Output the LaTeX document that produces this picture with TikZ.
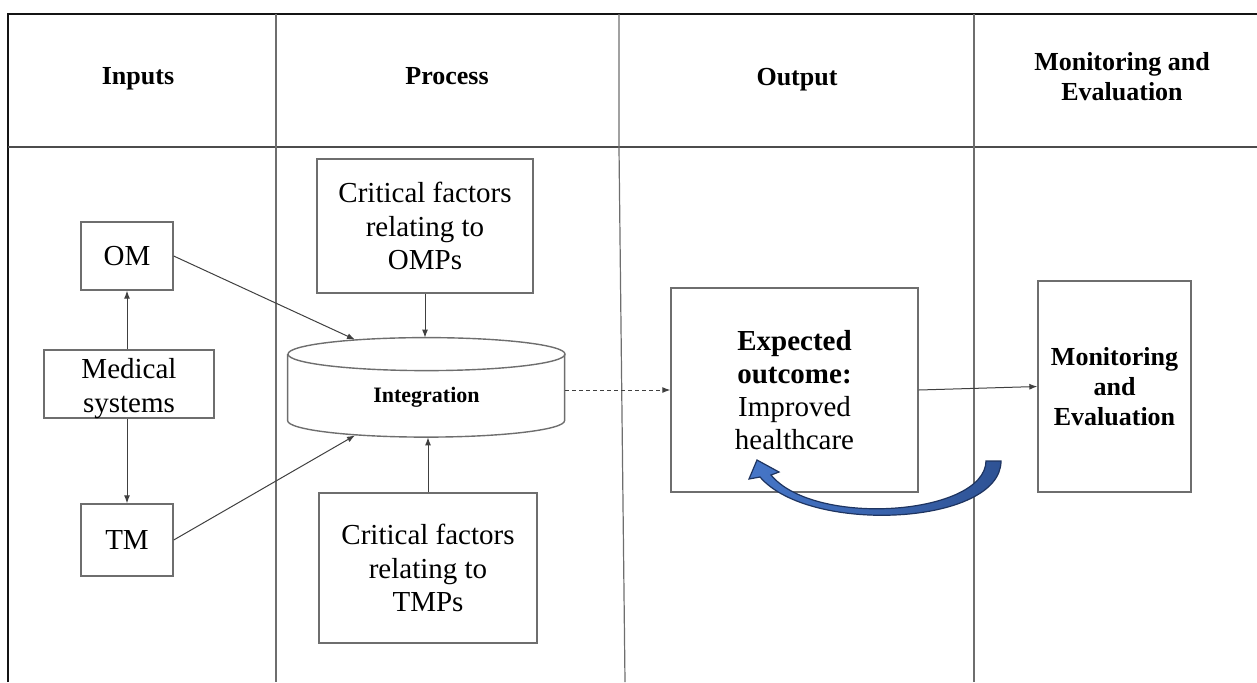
\documentclass[tikz,border=0pt]{standalone}
\usepackage{fontspec}
\setmainfont{Liberation Serif}
\usepackage{xcolor}
\usepackage{tikz}
\usetikzlibrary{positioning,arrows.meta,calc}
\definecolor{linegray}{RGB}{110,110,110}
\definecolor{framecolor}{RGB}{20,20,20}
\definecolor{headblue}{RGB}{70,118,200}
\definecolor{tailblue}{RGB}{46,82,148}
\definecolor{loopedge}{RGB}{30,52,96}
\tikzset{
  plain box/.style={
    rectangle,
    draw=linegray,
    line width=0.7pt,
    align=center,
    inner sep=2pt,
    font=\fontsize{14.5}{16.75}\selectfont
  },
  one line/.style={
    text depth=0pt
  },
  head text/.style={
    align=center,
    font=\fontsize{13}{15}\selectfont\bfseries
  },
  arrow/.style={
    -{Latex[length=4pt,width=3pt]},
    draw=black!75,
    line width=0.5pt
  },
  grid line/.style={
    draw=linegray,
    line width=0.6pt
  }
}

\begin{document}
\begin{tikzpicture}[x=0.5pt,y=-0.5pt]
  \useasboundingbox (0,0) rectangle (1257,682);

  % Table frame
  \draw[line width=1.2pt, framecolor] (8,682) -- (8,14) -- (1257,14);
  \draw[line width=0.8pt, black!70] (8,147) -- (1257,147);
  \draw[grid line] (276,14) -- (276,682);
  \draw[grid line] (619,14) -- (619,148) -- (625,682);
  \draw[grid line] (974,14) -- (974,682);

  % Headers
  \node[head text, one line] (hinput) at (138,76) {Inputs};
  \node[head text, one line] (hprocess) at (447,76) {Process};
  \node[head text, one line] (houtput) at (797,77) {Output};
  \node[head text] (hmonitor) at (1122,77) {Monitoring and\\Evaluation};

  % Inputs
  \node[plain box, minimum width=46pt, minimum height=34pt] (om) at (127,256) {OM};
  \node[plain box, minimum width=85pt, minimum height=34pt,
        label={[align=center, font=\fontsize{14.5}{17}\selectfont, yshift=-2.5pt]center:Medical\\systems}] (medical) at (129,384) {};
  \node[plain box, minimum width=46pt, minimum height=36pt] (tm) at (127,540) {TM};
  \draw[arrow] (medical.north -| om.south) -- (om.south);
  \draw[arrow] (medical.south -| tm.north) -- (tm.north);

  % Process
  \node[plain box, minimum width=108pt, minimum height=67pt] (omps) at (425,226) {Critical factors\\relating to\\OMPs};
  \node[plain box, minimum width=109pt, minimum height=75pt] (tmps) at (428,568) {Critical factors\\relating to\\TMPs};
  \node[minimum width=138.5pt, minimum height=49.5pt, inner sep=0pt,
        label={[font=\fontsize{11}{13}\selectfont\bfseries, yshift=-4.75pt]center:Integration}] (integ) at (426.5,387.5) {};
  \draw[line width=0.7pt, linegray] (integ.north west) ++(0,16.5) -- ++(0,66.5)
    arc[start angle=180, end angle=360, x radius=69.25pt, y radius=8.25pt] -- ++(0,-66.5);
  \draw[line width=0.7pt, linegray] (integ.north) ++(0,16.5) ellipse[x radius=69.25pt, y radius=8.25pt];
  \draw[arrow] (om.east) -- ([xshift=-35.75pt,yshift=-1pt]integ.north);
  \draw[arrow] (tm.east) -- ([xshift=-35.75pt,yshift=1pt]integ.south);
  \draw[arrow] (omps.south) -- (omps.south |- integ.north);
  \draw[arrow] (tmps.north) -- (tmps.north |- integ.south);

  % Output
  \node[plain box, minimum width=123.5pt, minimum height=102pt,
        font=\fontsize{14.5}{16.5}\selectfont] (expect) at (794.5,390) {\textbf{Expected}\\\textbf{outcome:}\\Improved\\healthcare};
  \draw[arrow, dash pattern=on 2pt off 1.5pt] (expect.west -| integ.east) -- (expect.west);

  % Monitoring and evaluation
  \node[plain box, minimum width=76.5pt, minimum height=105.5pt,
        font=\fontsize{13}{15}\selectfont\bfseries] (monit) at (1114.5,386.5) {Monitoring\\and\\Evaluation};
  \draw[arrow] (expect.east) -- (monit.west);

  % Feedback arrow
  \path[draw=loopedge, line width=0.6pt, left color=headblue, right color=tailblue]
    (1001,461) .. controls (1001,525) and (810,535) .. (760,477)
    -- (749,479) -- (757,460) -- (779,472) -- (771,475)
    .. controls (815,528) and (985,515) .. (986,461) -- cycle;
\end{tikzpicture}
\end{document}
